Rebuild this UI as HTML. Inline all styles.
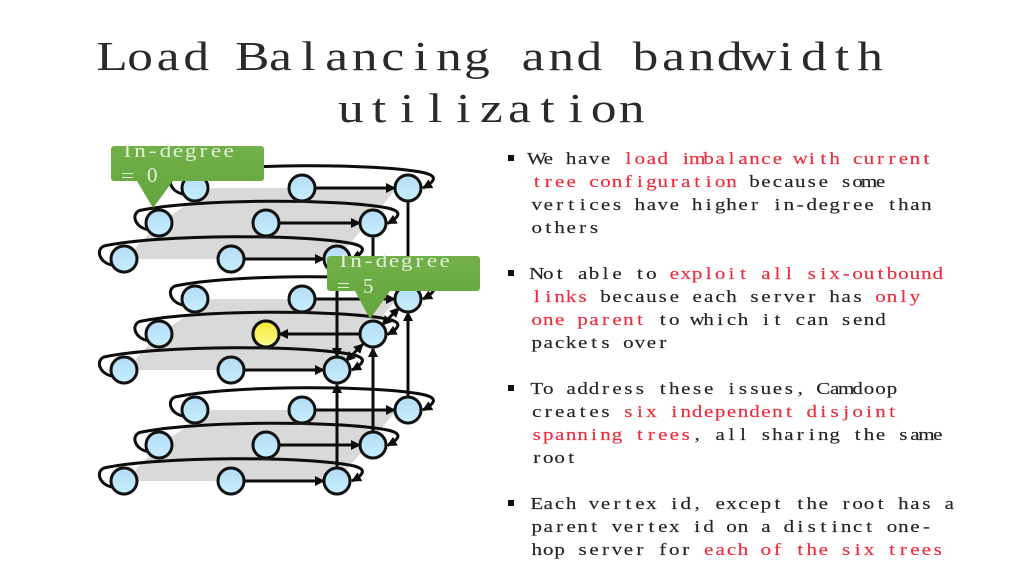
<!DOCTYPE html>
<html><head><meta charset="utf-8"><style>
html,body{margin:0;padding:0;background:#fff;width:1024px;height:576px;overflow:hidden}
svg{display:block}
.t{font-family:"Liberation Serif",serif;font-size:41px;fill:#2a2a2a;text-anchor:middle}
.b{font-family:"Liberation Serif",serif;font-size:16.8px;fill:#242424;stroke:#242424;stroke-width:.15;text-anchor:middle}
.b .r{fill:#ee2b3b;stroke:#ee2b3b}
.c{font-family:"Liberation Serif",serif;font-size:18.5px;fill:#e4f0dc;text-anchor:middle}
.s{font-family:"Liberation Serif",serif;font-size:21px;fill:#e4f0dc}
.l{fill:none;stroke:#0c0c0c;stroke-width:3}
.n{fill:url(#ng);stroke:#111;stroke-width:3}
</style></head><body>
<svg width="1024" height="576" viewBox="0 0 1024 576" xmlns="http://www.w3.org/2000/svg">
<defs>
<linearGradient id="ng" x1="0" y1="0" x2="0" y2="1"><stop offset="0" stop-color="#b4dcf6"/><stop offset="1" stop-color="#c6eefd"/></linearGradient>
<linearGradient id="yg" x1="0" y1="0" x2="0" y2="1"><stop offset="0" stop-color="#f6e93a"/><stop offset="1" stop-color="#fdf98e"/></linearGradient>
<linearGradient id="cg" x1="0" y1="0" x2="0" y2="1"><stop offset="0" stop-color="#73b04a"/><stop offset="1" stop-color="#62a53c"/></linearGradient>
<marker id="h" markerUnits="userSpaceOnUse" markerWidth="12" markerHeight="12" refX="9" refY="5" orient="auto"><path d="M0 0L10 5L0 10Z" fill="#0c0c0c"/></marker>
<marker id="hs" markerUnits="userSpaceOnUse" markerWidth="12" markerHeight="12" refX="1" refY="5" orient="auto"><path d="M10 0L0 5L10 10Z" fill="#0c0c0c"/></marker>
<polygon id="gray" points="212,188 397,188 337,259 125,259 159,223" fill="#d9d9d9"/>
<path id="arc" class="l" marker-end="url(#h)" d="M183 194C171 192 166 179 175 175C230 163 380 163 425 173C437 176 436 181 423 188"/>
<g id="node"><circle cx="0" cy="1.5" r="13.5" fill="#bbb" opacity=".35"/><circle class="n" r="13"/></g>
<g id="fwd">
<path class="l" marker-end="url(#h)" d="M315 188H395"/>
<path class="l" marker-end="url(#h)" d="M279 223H360"/>
<path class="l" marker-end="url(#h)" d="M244 259H324"/>
</g>
<g id="arcs">
<use href="#arc"/>
<use href="#arc" x="-35.5" y="35.5"/>
<use href="#arc" x="-71" y="71"/>
</g>
<g id="nodes">
<use href="#node" x="195" y="188"/><use href="#node" x="302" y="188"/><use href="#node" x="408" y="188"/>
<use href="#node" x="159" y="223"/><use href="#node" x="266" y="223"/><use href="#node" x="373" y="223"/>
<use href="#node" x="124" y="259"/><use href="#node" x="231" y="259"/><use href="#node" x="337" y="259"/>
</g>
</defs>
<rect width="1024" height="576" fill="#fff"/>

<g transform="translate(98,0) scale(1.25,1)"><text class="t" y="70" x="11.2 33.7 56.1 78.6 101.1 123.5 146.0 168.4 190.9 213.4 235.8 258.3 280.8 303.2 325.7 348.1 370.6 393.1 415.5 438.0 460.4 482.9 505.4 527.8 550.3 572.8 595.2 617.7">Load Balancing and bandwidth</text></g>
<g transform="translate(337,0) scale(1.25,1)"><text class="t" y="122" x="11.2 33.7 56.1 78.6 101.1 123.5 146.0 168.4 190.9 213.4 235.8">utilization</text></g>

<use href="#gray"/><use href="#gray" y="111"/><use href="#gray" y="222"/>

<use href="#arcs"/><use href="#arcs" y="111"/><use href="#arcs" y="222"/>

<use href="#fwd"/><use href="#fwd" y="222"/>
<path class="l" marker-end="url(#h)" d="M315 299H395"/>
<path class="l" marker-end="url(#h)" d="M244 370H324"/>
<path class="l" marker-end="url(#h)" d="M360 334H279"/>

<path class="l" d="M408 201V286"/>
<path class="l" d="M373 236V290"/>
<path class="l" marker-end="url(#h)" d="M337 272V357"/>
<path class="l" marker-end="url(#h)" d="M337 468V384"/>
<path class="l" marker-end="url(#h)" d="M373 432V348"/>
<path class="l" marker-end="url(#h)" d="M408 397V312"/>
<path class="l" marker-start="url(#hs)" marker-end="url(#h)" d="M382 325L399 308"/>
<path class="l" marker-start="url(#hs)" marker-end="url(#h)" d="M346 361L363 344"/>

<use href="#nodes"/><use href="#nodes" y="111"/><use href="#nodes" y="222"/>
<circle cx="266" cy="334" r="13" fill="url(#yg)" stroke="#111" stroke-width="3"/>

<path d="M114 146H261a3 3 0 0 1 3 3V178a3 3 0 0 1-3 3H173L153 208L137 181H114a3 3 0 0 1-3-3V149a3 3 0 0 1 3-3Z" fill="url(#cg)"/>
<g transform="translate(121,0) scale(1.25,1)"><text class="c" y="157" x="5.1 15.2 25.3 35.5 45.6 55.7 65.9 76 86.1">In-degree</text><text class="c" y="182" x="5.1">=</text></g>
<text class="s" x="147" y="182">0</text>

<path d="M330 256H477a3 3 0 0 1 3 3V288a3 3 0 0 1-3 3H390L370 319L355 291H330a3 3 0 0 1-3-3V259a3 3 0 0 1 3-3Z" fill="url(#cg)"/>
<g transform="translate(337,0) scale(1.25,1)"><text class="c" y="267" x="5.1 15.2 25.3 35.5 45.6 55.7 65.9 76 86.1">In-degree</text><text class="c" y="292" x="5.1">=</text></g>
<text class="s" x="363" y="293">5</text>

<rect x="508" y="155" width="6" height="6" fill="#111"/>
<rect x="508" y="270" width="6" height="6" fill="#111"/>
<rect x="508" y="385" width="6" height="6" fill="#111"/>
<rect x="508" y="500" width="6" height="6" fill="#111"/>

<g transform="translate(531,0) scale(1.25,1)">
<text class="b" y="164" x="4.6 13.8 22.9 32.1 41.3 50.4 59.6 68.8 77.9 87.1 96.3 105.4 114.6 123.8 132.9 142.1 151.3 160.4 169.6 178.8 187.9 197.1 206.3 215.4 224.6 233.8 242.9 252.1 261.3 270.4 279.6 288.8 297.9 307.1 316.3 325.4 334.6 343.8">We have <tspan class="r">load imbalance with current</tspan></text>
<text class="b" y="187" x="4.6 13.8 22.9 32.1 41.3 50.4 59.6 68.8 77.9 87.1 96.3 105.4 114.6 123.8 132.9 142.1 151.3 160.4 169.6 178.8 187.9 197.1 206.3 215.4 224.6 233.8 242.9 252.1 261.3 270.4 279.6 288.8 297.9 307.1 316.3 325.4 334.6 343.8"><tspan class="r">tree configuration</tspan> because some</text>
<text class="b" y="210" x="4.6 13.8 22.9 32.1 41.3 50.4 59.6 68.8 77.9 87.1 96.3 105.4 114.6 123.8 132.9 142.1 151.3 160.4 169.6 178.8 187.9 197.1 206.3 215.4 224.6 233.8 242.9 252.1 261.3 270.4 279.6 288.8 297.9 307.1 316.3 325.4 334.6 343.8">vertices have higher in-degree than</text>
<text class="b" y="233" x="4.6 13.8 22.9 32.1 41.3 50.4">others</text>

<text class="b" y="279" x="4.6 13.8 22.9 32.1 41.3 50.4 59.6 68.8 77.9 87.1 96.3 105.4 114.6 123.8 132.9 142.1 151.3 160.4 169.6 178.8 187.9 197.1 206.3 215.4 224.6 233.8 242.9 252.1 261.3 270.4 279.6 288.8 297.9 307.1 316.3 325.4 334.6 343.8">Not able to <tspan class="r">exploit all six-outbound</tspan></text>
<text class="b" y="302" x="4.6 13.8 22.9 32.1 41.3 50.4 59.6 68.8 77.9 87.1 96.3 105.4 114.6 123.8 132.9 142.1 151.3 160.4 169.6 178.8 187.9 197.1 206.3 215.4 224.6 233.8 242.9 252.1 261.3 270.4 279.6 288.8 297.9 307.1 316.3 325.4 334.6 343.8"><tspan class="r">links</tspan> because each server has <tspan class="r">only</tspan></text>
<text class="b" y="325" x="4.6 13.8 22.9 32.1 41.3 50.4 59.6 68.8 77.9 87.1 96.3 105.4 114.6 123.8 132.9 142.1 151.3 160.4 169.6 178.8 187.9 197.1 206.3 215.4 224.6 233.8 242.9 252.1 261.3 270.4 279.6 288.8 297.9 307.1 316.3 325.4 334.6 343.8"><tspan class="r">one parent</tspan> to which it can send</text>
<text class="b" y="348" x="4.6 13.8 22.9 32.1 41.3 50.4 59.6 68.8 77.9 87.1 96.3 105.4">packets over</text>

<text class="b" y="394" x="4.6 13.8 22.9 32.1 41.3 50.4 59.6 68.8 77.9 87.1 96.3 105.4 114.6 123.8 132.9 142.1 151.3 160.4 169.6 178.8 187.9 197.1 206.3 215.4 224.6 233.8 242.9 252.1 261.3 270.4 279.6 288.8 297.9 307.1 316.3 325.4 334.6 343.8">To address these issues, Camdoop</text>
<text class="b" y="417" x="4.6 13.8 22.9 32.1 41.3 50.4 59.6 68.8 77.9 87.1 96.3 105.4 114.6 123.8 132.9 142.1 151.3 160.4 169.6 178.8 187.9 197.1 206.3 215.4 224.6 233.8 242.9 252.1 261.3 270.4 279.6 288.8 297.9 307.1 316.3 325.4 334.6 343.8">creates <tspan class="r">six independent disjoint</tspan></text>
<text class="b" y="440" x="4.6 13.8 22.9 32.1 41.3 50.4 59.6 68.8 77.9 87.1 96.3 105.4 114.6 123.8 132.9 142.1 151.3 160.4 169.6 178.8 187.9 197.1 206.3 215.4 224.6 233.8 242.9 252.1 261.3 270.4 279.6 288.8 297.9 307.1 316.3 325.4 334.6 343.8"><tspan class="r">spanning trees</tspan>, all sharing the same</text>
<text class="b" y="463" x="4.6 13.8 22.9 32.1">root</text>

<text class="b" y="509" x="4.6 13.8 22.9 32.1 41.3 50.4 59.6 68.8 77.9 87.1 96.3 105.4 114.6 123.8 132.9 142.1 151.3 160.4 169.6 178.8 187.9 197.1 206.3 215.4 224.6 233.8 242.9 252.1 261.3 270.4 279.6 288.8 297.9 307.1 316.3 325.4 334.6 343.8">Each vertex id, except the root has a</text>
<text class="b" y="532" x="4.6 13.8 22.9 32.1 41.3 50.4 59.6 68.8 77.9 87.1 96.3 105.4 114.6 123.8 132.9 142.1 151.3 160.4 169.6 178.8 187.9 197.1 206.3 215.4 224.6 233.8 242.9 252.1 261.3 270.4 279.6 288.8 297.9 307.1 316.3 325.4 334.6 343.8">parent vertex id on a distinct one-</text>
<text class="b" y="555" x="4.6 13.8 22.9 32.1 41.3 50.4 59.6 68.8 77.9 87.1 96.3 105.4 114.6 123.8 132.9 142.1 151.3 160.4 169.6 178.8 187.9 197.1 206.3 215.4 224.6 233.8 242.9 252.1 261.3 270.4 279.6 288.8 297.9 307.1 316.3 325.4 334.6 343.8">hop server for <tspan class="r">each of the six trees</tspan></text>
</g>
</svg>
</body></html>
